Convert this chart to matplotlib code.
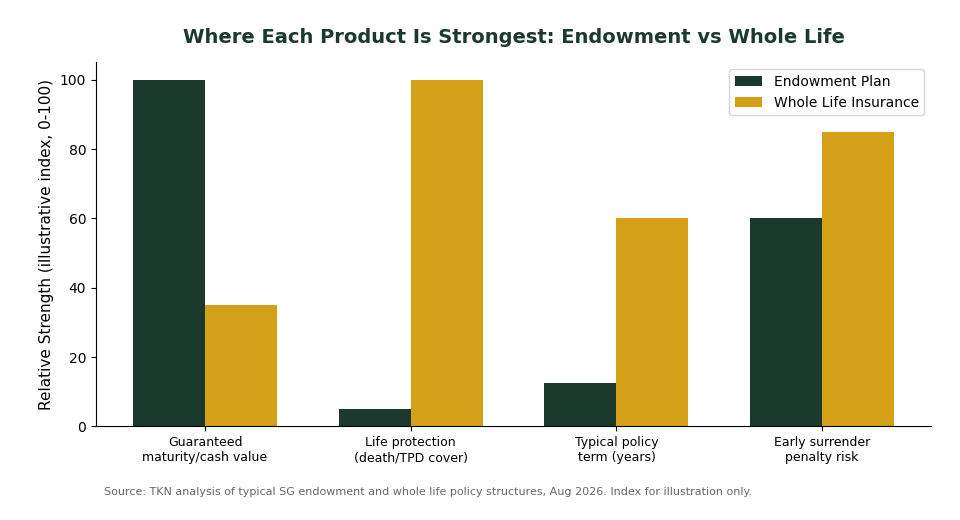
import matplotlib.pyplot as plt
import numpy as np

categories = ["Guaranteed\nmaturity/cash value", "Life protection\n(death/TPD cover)",
              "Typical policy\nterm (years)", "Early surrender\npenalty risk"]
endowment = [100, 5, 12.5, 60]
whole_life = [35, 100, 60, 85]

fig = plt.figure(figsize=(9.6, 5.2), dpi=100)
ax = fig.add_axes([0.1, 0.18, 0.87, 0.70])

x = np.arange(len(categories))
w = 0.35
ax.bar(x - w / 2, endowment, w, color="#1b3a2d", label="Endowment Plan")
ax.bar(x + w / 2, whole_life, w, color="#d4a017", label="Whole Life Insurance")

ax.set_xticks(x)
ax.set_xticklabels(categories, fontsize=9)
ax.set_xlim(-0.53, 3.53)
ax.set_ylim(0, 105)
ax.set_ylabel("Relative Strength (illustrative index, 0-100)", fontsize=11)
ax.set_title("Where Each Product Is Strongest: Endowment vs Whole Life",
             fontsize=14, fontweight="bold", color="#1b3a2d", pad=14)
ax.spines["top"].set_visible(False)
ax.spines["right"].set_visible(False)
ax.legend(loc="upper right", fontsize=10)

fig.text(0.108, 0.048, "Source: TKN analysis of typical SG endowment and whole life policy structures, Aug 2026. Index for illustration only.",
         fontsize=8, color="#666666")

fig.savefig("out.png", dpi=100)
